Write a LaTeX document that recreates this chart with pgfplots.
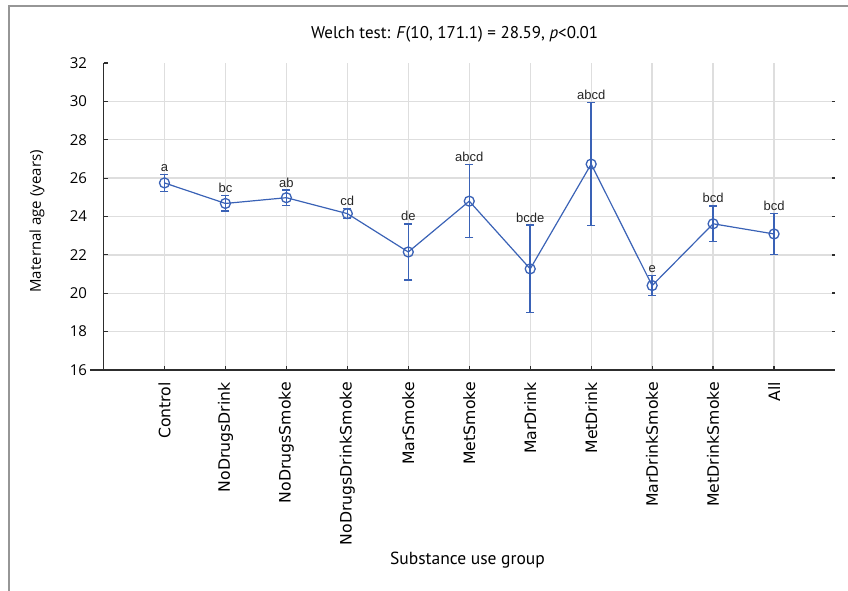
\documentclass[border=0pt]{standalone}
\usepackage{fontspec}
\setmainfont{Open Sans}
\newfontfamily\dejavu{DejaVu Sans}
\newfontfamily\ptsans{PT Sans}
\newfontfamily\arialf{Liberation Sans}
\usepackage{pgfplots}
\usepackage{pgfplotstable}
\pgfplotsset{compat=1.18}
\definecolor{lineblue}{RGB}{58,98,182}
\definecolor{gridgray}{RGB}{222,222,222}
\definecolor{axiscol}{RGB}{45,45,45}
\definecolor{framegray}{RGB}{150,150,150}

\pgfplotstableread{
x y err label
1 25.75 0.43 a
2 24.68 0.40 bc
3 24.98 0.40 ab
4 24.15 0.25 cd
5 22.15 1.46 de
6 24.80 1.90 abcd
7 21.27 2.28 bcde
8 26.73 3.20 abcd
9 20.40 0.52 e
10 23.62 0.93 bcd
11 23.09 1.08 bcd
}\datatable

\begin{document}
\begin{tikzpicture}
\useasboundingbox (0,0) rectangle (848pt,591pt);
\draw[framegray, line width=1.5pt] (9pt,0pt) -- (9pt,585pt) -- (848pt,585pt);
\begin{axis}[
  at={(103.5pt,221pt)}, anchor=south west,
  scale only axis, width=731.5pt, height=307pt,
  xmin=0, xmax=12, ymin=16, ymax=32,
  axis x line*=bottom, axis y line*=left,
  axis line style={axiscol, line width=1.5pt},
  xtick={1,...,11},
  xticklabels={Control,NoDrugsDrink,NoDrugsSmoke,NoDrugsDrinkSmoke,MarSmoke,MetSmoke,MarDrink,MetDrink,MarDrinkSmoke,MetDrinkSmoke,All},
  ytick={16,18,...,30},
  extra y ticks={32},
  extra y tick style={grid=none},
  grid=major,
  major grid style={gridgray, line width=1.3pt},
  tick align=inside, major tick length=4pt,
  tick style={axiscol, line width=1.2pt},
  /pgf/number format/assume math mode=true,
  yticklabel style={font=\fontsize{15}{18}\selectfont, anchor=east, xshift=-13pt},
  xticklabel style={font=\dejavu\fontsize{15.7}{18}\selectfont, yshift=-12pt, rotate=90, anchor=east, inner sep=0pt},
  ylabel={Maternal age (years)},
  ylabel style={font=\fontsize{15}{18}\selectfont, at={(axis description cs:-0.0909,0.484)}, anchor=center, rotate=0},
  xlabel={Substance use group},
  xlabel style={font=\ptsans\fontsize{17.5}{20}\selectfont, at={(axis description cs:0.4976,-0.619)}, anchor=center},
  title={Welch test: \textit{F}(10, 171.1) = 28.59, \textit{p}<0.01},
  title style={font=\ptsans\fontsize{17}{20}\selectfont, at={(axis description cs:0.48,1.075)}, anchor=center},
  clip=false,
]
\addplot[lineblue, line width=1.2pt, mark=o, mark size=5pt,
  mark options={line width=1.3pt, fill=none, draw=lineblue},
  error bars/.cd, y dir=both, y explicit,
  error bar style={draw=lineblue, color=lineblue, line width=1.5pt},
  error mark options={rotate=90, mark size=4pt, line width=1.3pt, draw=lineblue}]
  table[x=x, y=y, y error=err] {\datatable};
\addplot[draw=none, mark=none, nodes near coords, point meta=explicit symbolic,
  every node near coord/.append style={anchor=base, yshift=3pt, inner sep=0pt, text=black!85, font=\arialf\fontsize{13}{15}\selectfont}]
  table[x=x, y expr=\thisrow{y}+\thisrow{err}, meta=label] {\datatable};
\draw[axiscol, line width=1.5pt] (axis cs:0,16) -- ++(-13.5pt,0pt);
\pgfplotsinvokeforeach{18,20,...,30}{
  \draw[axiscol, line width=1.5pt] (axis cs:12,#1) -- ++(-3pt,0pt);
}
\end{axis}
\end{tikzpicture}
\end{document}
